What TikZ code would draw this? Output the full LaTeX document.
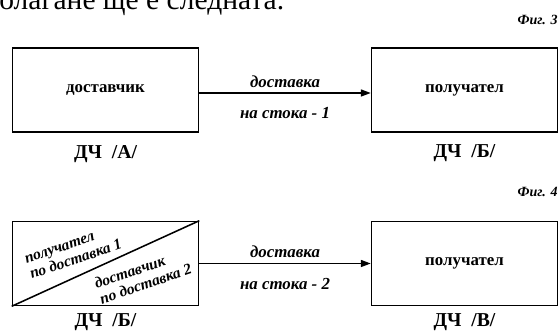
\documentclass[tikz,border=0pt]{standalone}
\usepackage{fontspec}
\setmainfont{Liberation Serif}
\usetikzlibrary{arrows.meta,calc,positioning}

\begin{document}
\begin{tikzpicture}[x=0.025cm, y=-0.025cm,
  block/.style={draw, line width=1.1pt, minimum width=4.65cm, minimum height=2.1cm, font=\fontsize{12}{14}\selectfont\bfseries},
  flow/.style={-{Triangle[length=7pt,width=5pt]}, line width=1pt},
  flowlbl/.style={font=\fontsize{12}{14}\selectfont\bfseries\itshape, inner sep=0pt},
  dchlbl/.style={font=\fontsize{14}{16}\selectfont\bfseries, inner sep=0pt},
  figlbl/.style={font=\fontsize{10}{12}\selectfont\bfseries\itshape, anchor=base east, inner sep=0pt},
  diaglbl/.style={font=\fontsize{11}{11.6}\selectfont\bfseries\itshape, align=left, rotate=18.7, inner sep=0pt}]
  \useasboundingbox (0,0) rectangle (559,333);

  % end of the text line above, cut by the frame
  \node[anchor=base west, inner sep=0pt, font=\fontsize{21}{21}\selectfont] (txt) at (-1,10) {олагане ще е следната.};

  % Fig. 3
  \node[figlbl] (fig3) at (558,25) {Фиг. 3};
  \node[block] (supA) at (105.5,90) {доставчик};
  \node[block] (recB) at (464.5,90) {получател};
  \node[dchlbl, below=8.5pt of supA] (dchA) {ДЧ\enspace/А/};
  \node[dchlbl, below=8.5pt of recB] (dchB) {ДЧ\enspace/Б/};
  \draw[flow] ($(supA.east)+(0,3)$) -- ($(recB.west)+(0,3)$)
    node[flowlbl, midway, above=3.5pt] (lbl1a) {доставка}
    node[flowlbl, midway, below=10pt] (lbl1b) {на стока - 1};

  % Fig. 4
  \node[figlbl] (fig4) at (558,197) {Фиг. 4};
  \node[block] (splitB) at (105.5,263.5) {};
  \draw[line width=1.1pt] (splitB.south west) -- (splitB.north east);
  \node[diaglbl] (roleA) at (73.5,252.5) {получател\\по доставка 1};
  \node[diaglbl] (roleB) at (143,276) {доставчик\\по доставка 2};
  \node[block] (recV) at (464.5,263.5) {получател};
  \node[dchlbl, below=5pt of splitB] (dchB2) {ДЧ\enspace/Б/};
  \node[dchlbl, below=5pt of recV] (dchV) {ДЧ\enspace/В/};
  \draw[flow] (splitB) -- (recV)
    node[flowlbl, midway, above=3.5pt] (lbl2a) {доставка}
    node[flowlbl, midway, below=10pt] (lbl2b) {на стока - 2};
\end{tikzpicture}
\end{document}
